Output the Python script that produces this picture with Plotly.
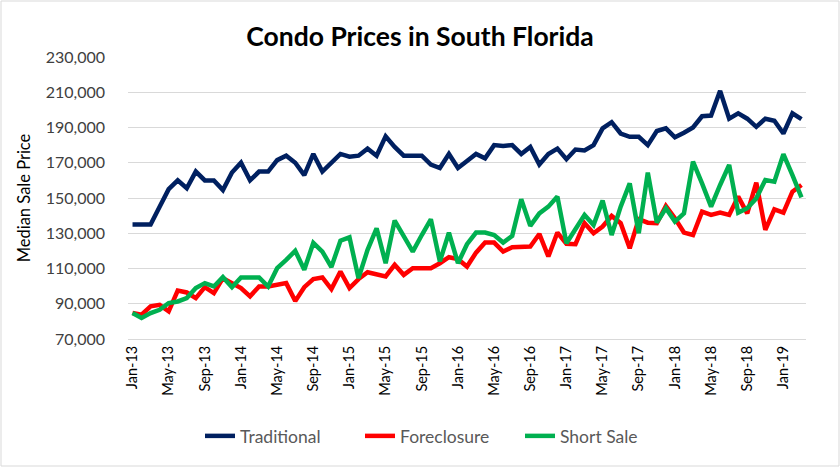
import plotly.graph_objects as go

months = ["Jan", "Feb", "Mar", "Apr", "May", "Jun", "Jul", "Aug", "Sep", "Oct", "Nov", "Dec"]
categories = [f"{m}-{y:02d}" for y in range(13, 20) for m in months][:75]

traditional = [135000, 135000, 135000, 145000, 155000, 160000, 155500, 165000, 160000, 160000,
               154500, 164500, 170000, 160000, 165000, 165000, 171500, 174000, 170000, 163000,
               175000, 165000, 170000, 175000, 173400, 174000, 178000, 174000, 185000, 179000,
               174000, 174000, 174000, 169000, 167000, 175000, 167000, 171000, 175000, 172500,
               180000, 179500, 180000, 175000, 179000, 169000, 175000, 178000, 172000, 177500,
               177000, 180000, 189500, 193000, 186600, 184700, 184700, 180000, 188000, 189500,
               184400, 187000, 190000, 196400, 196800, 210800, 195000, 198000, 195000, 190400,
               195000, 193800, 186600, 198000, 194700]

foreclosure = [84700, 83800, 88500, 89400, 85700, 97500, 96400, 93200, 99400, 96000,
               104500, 101700, 98900, 94200, 99800, 99800, 100800, 101700, 91500, 99400,
               104000, 104900, 98300, 108300, 98900, 104000, 107900, 107000, 105500, 112100,
               106400, 110200, 110200, 110200, 113000, 116400, 115300, 111100, 119000, 124700,
               124700, 119600, 122100, 122500, 122500, 129600, 116800, 130400, 124000, 123800,
               135700, 130000, 133800, 139800, 135700, 121500, 138000, 136000, 135700, 145500,
               138500, 130400, 129000, 142300, 140400, 141700, 140400, 150800, 141300, 158700,
               131900, 143600, 141700, 153600, 157400]

short_sale = [84700, 81900, 84700, 86600, 90400, 91300, 93200, 98900, 101700, 99800,
              105100, 99400, 104900, 104900, 104900, 99800, 110200, 114900, 120000, 109300,
              124500, 119600, 110800, 125800, 127700, 104500, 120600, 132800, 113000, 137200,
              129000, 119600, 129000, 137900, 114000, 130400, 113000, 123800, 130400, 130400,
              129000, 124700, 128500, 149300, 134200, 141300, 145100, 150800, 124300, 131900,
              140400, 134700, 148500, 129000, 145100, 158300, 130000, 164400, 136000, 144200,
              136600, 141300, 170600, 158300, 145100, 157400, 168700, 141700, 144200, 149800,
              160200, 159300, 174900, 163000, 150400]

tick_labels = categories[::4]
y_ticks = list(range(70000, 230001, 20000))

series = [("Traditional", traditional, "#002060"),
          ("Foreclosure", foreclosure, "#FF0000"),
          ("Short Sale", short_sale, "#00B050")]

fig = go.Figure()
for name, vals, color in series:
    fig.add_trace(go.Scatter(x=categories, y=vals, name=name, mode="lines",
                             line=dict(color=color, width=4.5)))

W, H = 840, 467
L, R, T, B = 128, 34, 57, 128
pw, ph = W - L - R, H - T - B
FONT = "Lato, Open Sans, sans-serif"

fig.update_layout(
    width=W, height=H,
    margin=dict(l=L, r=R, t=T, b=B),
    paper_bgcolor="white", plot_bgcolor="white",
    font=dict(family=FONT, color="#404040", size=14),
    title=dict(text="<b>Condo Prices in South Florida</b>", x=0.5, xanchor="center",
               y=1 - 37 / H, yanchor="middle",
               font=dict(size=26.5, color="black", family=FONT)),
    showlegend=True,
    legend=dict(orientation="h", x=0.5 - 27 / pw, xanchor="center", y=-(436 - (H - B)) / ph,
                yanchor="middle", font=dict(size=17.5, color="#595959"),
                itemwidth=30, entrywidth=115, tracegroupgap=0),
    xaxis=dict(type="category", tickmode="array", tickvals=tick_labels, ticktext=tick_labels,
               tickangle=-90, showgrid=False, showline=True, linecolor="#d9d9d9", linewidth=1,
               ticks="", tickfont=dict(size=14.5, color="black"), range=[-0.5, 74.5]),
    yaxis=dict(range=[70000, 230000], tickvals=y_ticks, tickformat=",d",
               showgrid=True, gridcolor="#d9d9d9", gridwidth=1, zeroline=False,
               showline=False, ticks="", ticklabelstandoff=22,
               tickfont=dict(size=16, color="#404040"),
               title=dict(text="Median Sale Price", font=dict(size=16.5, color="black"), standoff=10)),
    shapes=[dict(type="rect", xref="paper", yref="paper",
                 x0=-(L - 1) / pw, x1=1 + (R - 1) / pw,
                 y0=-(B - 1) / ph, y1=1 + (T - 1) / ph,
                 line=dict(color="#d9d9d9", width=1), fillcolor="rgba(0,0,0,0)", layer="below")],
)

fig.write_html("out.html")
